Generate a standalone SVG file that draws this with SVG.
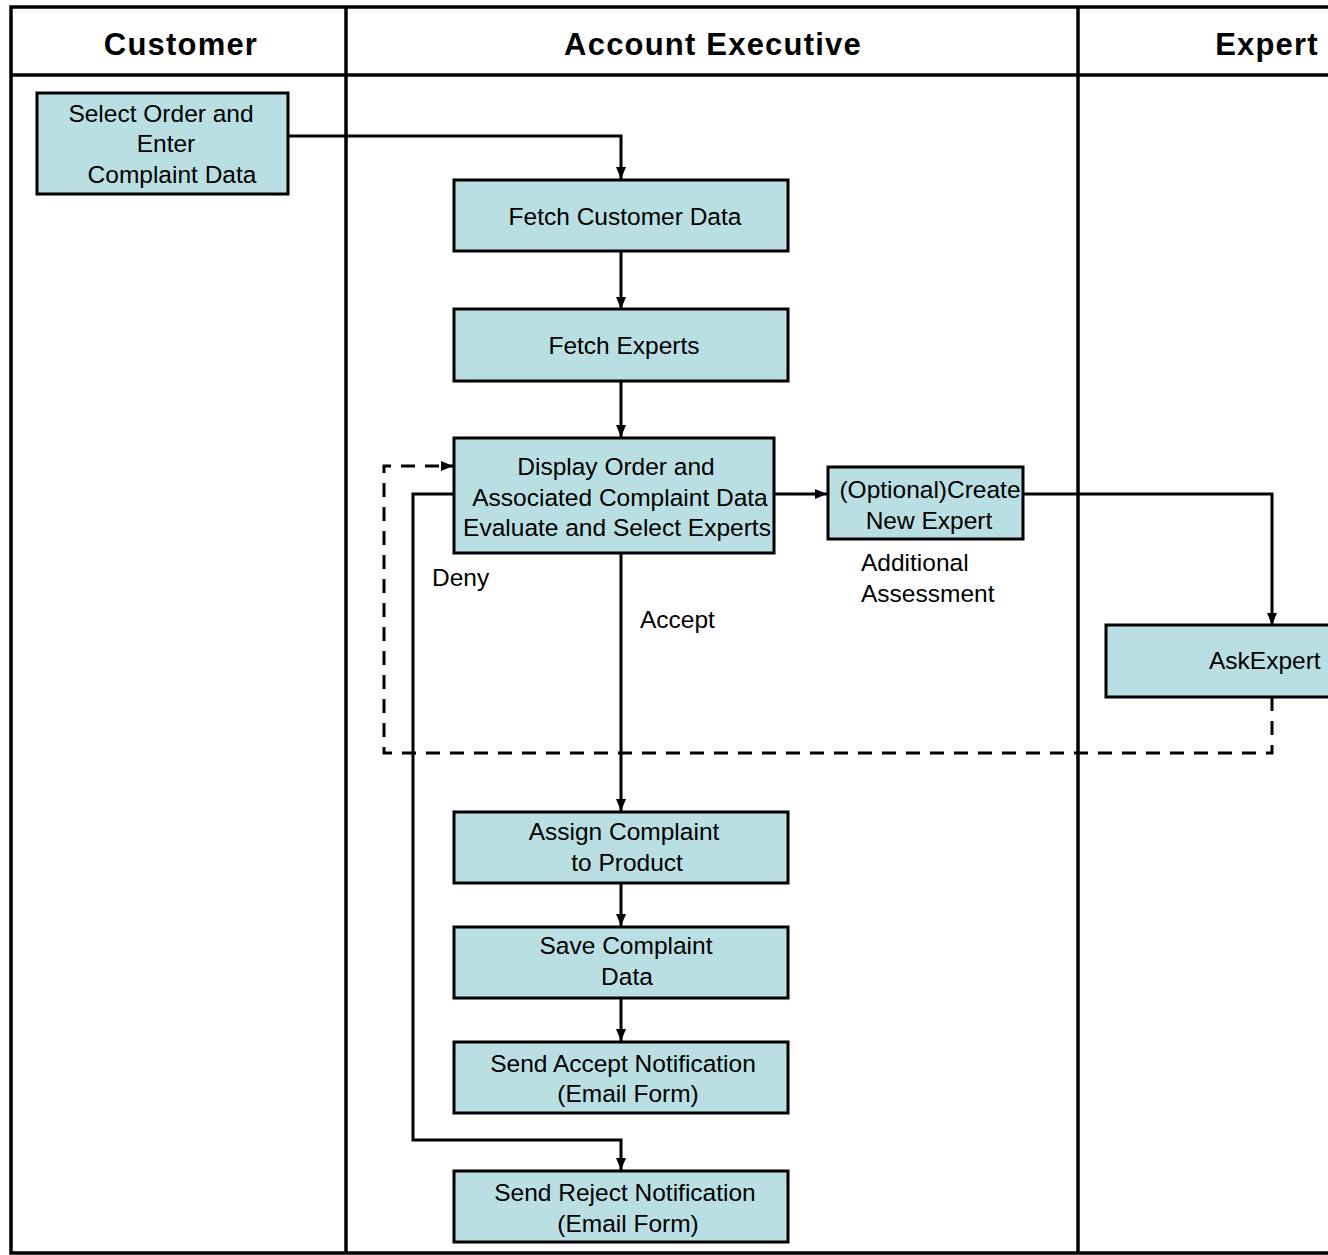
<svg xmlns="http://www.w3.org/2000/svg" width="1328" height="1255" viewBox="0 0 1328 1255">
<defs>
<style>
.box{fill:#b9dfe3;stroke:#000;stroke-width:3}
.t{font-family:"Liberation Sans",Arial,sans-serif;font-size:24.5px;fill:#000;text-anchor:middle}
.l{font-family:"Liberation Sans",Arial,sans-serif;font-size:24.5px;fill:#000}
.h{font-family:"Liberation Sans",Arial,sans-serif;font-size:31px;font-weight:bold;fill:#000;text-anchor:middle;letter-spacing:1.2px}
.c{fill:none;stroke:#000;stroke-width:3}
.d{fill:none;stroke:#000;stroke-width:3;stroke-dasharray:14,10}
.lane{stroke:#000;stroke-width:3.5;fill:none}
</style>
<marker id="ah" markerWidth="13" markerHeight="12" refX="12" refY="6" orient="auto" markerUnits="userSpaceOnUse">
<path d="M0,1 L12,6 L0,11 Z" fill="#000"/>
</marker>
</defs>
<rect width="1328" height="1255" fill="#fff"/>
<g id="lanes">
<path class="lane" d="M1328,7 H11 V1253 H1328" stroke-width="4"/>
<line class="lane" x1="11" y1="75" x2="1328" y2="75"/>
<line class="lane" x1="346" y1="7" x2="346" y2="1253"/>
<line class="lane" x1="1078" y1="7" x2="1078" y2="1253"/>
<text class="h" x="181" y="55">Customer</text>
<text class="h" x="713" y="55">Account Executive</text>
<text class="h" x="1267" y="55">Expert</text>
</g>
<g id="connectors">
<path class="c" d="M288,136 H621 V179" marker-end="url(#ah)"/>
<path class="c" d="M621,251 V309" marker-end="url(#ah)"/>
<path class="c" d="M621,381 V437" marker-end="url(#ah)"/>
<path class="c" d="M621,553 V811" marker-end="url(#ah)"/>
<path class="c" d="M621,883 V926" marker-end="url(#ah)"/>
<path class="c" d="M621,998 V1041" marker-end="url(#ah)"/>
<path class="c" d="M774,494 H827" marker-end="url(#ah)"/>
<path class="c" d="M1023,494 H1272 V625" marker-end="url(#ah)"/>
<path class="d" d="M1272,697 V753 H384 V466 H453" marker-end="url(#ah)"/>
<path class="c" d="M453,494 H413 V1140 H621 V1170" marker-end="url(#ah)"/>
<text class="l" x="432" y="586">Deny</text>
<text class="l" x="640" y="628">Accept</text>
<text class="l" x="861" y="571">Additional</text>
<text class="l" x="861" y="602">Assessment</text>
</g>
<g id="select-order">
<rect class="box" x="37" y="93" width="251" height="101"/>
<text class="t" x="161" y="122">Select Order and</text>
<text class="t" x="166" y="152">Enter</text>
<text class="t" x="172" y="183">Complaint Data</text>
</g>
<g id="fetch-customer">
<rect class="box" x="454" y="180" width="334" height="71"/>
<text class="t" x="625" y="225">Fetch Customer Data</text>
</g>
<g id="fetch-experts">
<rect class="box" x="454" y="309" width="334" height="72"/>
<text class="t" x="624" y="354">Fetch Experts</text>
</g>
<g id="display-order">
<rect class="box" x="454" y="438" width="320" height="115"/>
<text class="t" x="616" y="475">Display Order and</text>
<text class="t" x="620" y="506">Associated Complaint Data</text>
<text class="t" x="617" y="536">Evaluate and Select Experts</text>
</g>
<g id="create-expert">
<rect class="box" x="828" y="467" width="195" height="72"/>
<text class="t" x="930" y="498">(Optional)Create</text>
<text class="t" x="929" y="529">New Expert</text>
</g>
<g id="ask-expert">
<rect class="box" x="1106" y="625" width="230" height="72"/>
<text class="l" x="1209" y="669">AskExpert</text>
</g>
<g id="assign-complaint">
<rect class="box" x="454" y="812" width="334" height="71"/>
<text class="t" x="624" y="840">Assign Complaint</text>
<text class="t" x="627" y="871">to Product</text>
</g>
<g id="save-complaint">
<rect class="box" x="454" y="927" width="334" height="71"/>
<text class="t" x="626" y="954">Save Complaint</text>
<text class="t" x="627" y="985">Data</text>
</g>
<g id="send-accept">
<rect class="box" x="454" y="1042" width="334" height="71"/>
<text class="t" x="623" y="1072">Send Accept Notification</text>
<text class="t" x="628" y="1102">(Email Form)</text>
</g>
<g id="send-reject">
<rect class="box" x="454" y="1171" width="334" height="71"/>
<text class="t" x="625" y="1201">Send Reject Notification</text>
<text class="t" x="628" y="1232">(Email Form)</text>
</g>
</svg>
